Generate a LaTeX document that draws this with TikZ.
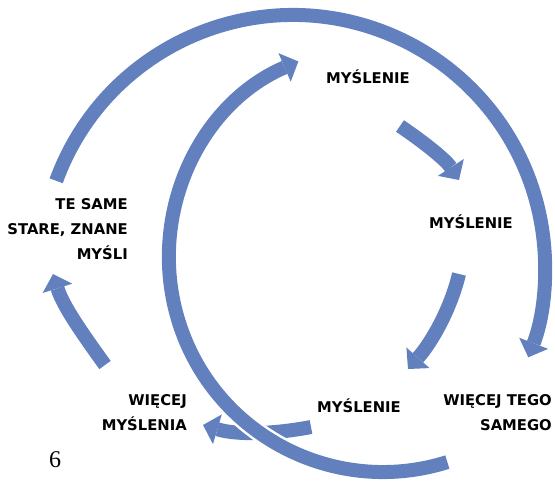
\documentclass[tikz,border=0pt]{standalone}
\usepackage{fontspec}
\setmainfont{DejaVu Sans}
\newfontfamily\numfont{Liberation Serif}
\usetikzlibrary{arrows.meta}
\definecolor{arrowblue}{RGB}{98,128,190}
\begin{document}
\begin{tikzpicture}[x=1pt,y=-1pt,
  flow/.style={draw=arrowblue, line width=14pt,
    -{Triangle[width=31pt,length=15pt,line width=0pt]}},
  gap/.style={draw=white, line width=19pt},
  lbl/.style={font=\bfseries\fontsize{14.8}{25}\selectfont, inner sep=0pt, align=right, text=black},
]
\useasboundingbox (0,0) rectangle (555,480);
% centres of the two large arcs
\coordinate (oc) at (293,267);
\coordinate (ic) at (383,258);
% labels
\node[lbl] (m1) at (368,76.5) {MYŚLENIE};
\node[lbl] (m2) at (471,221.5) {MYŚLENIE};
\node[lbl] (m3) at (359,405.5) {MYŚLENIE};
\node[lbl, anchor=east] (wts) at (552,413) {WIĘCEJ TEGO\\SAMEGO};
\node[lbl, anchor=east] (wm) at (187,412.5) {WIĘCEJ\\MYŚLENIA};
\node[lbl, anchor=east] (tsm) at (128,229) {TE SAME\\STARE, ZNANE\\MYŚLI};
\node[font=\numfont\fontsize{24}{28}\selectfont, inner sep=0pt] (pg) at (55,460) {6};
% short arrows
\coordinate (a1s) at (400,126); \coordinate (a1e) at (459,180);
\coordinate (a2s) at (459,274); \coordinate (a2e) at (408,369);
\coordinate (a3s) at (311,427); \coordinate (a3e) at (203,425);
\coordinate (a4s) at (105,365); \coordinate (a4e) at (53,274);
\draw[flow] (a1s) .. controls (425,143) and (446,160) .. (a1e);
\draw[flow] (a2s) .. controls (451,308) and (432,342) .. (a2e);
\draw[flow] (a3s) .. controls (280,433) and (240,436) .. (a3e);
\draw[flow] (a4s) .. controls (82,333) and (63,306) .. (a4e);
% outer large arc
\draw[flow] (oc) ++(-160:252) arc[start angle=-160, end angle=21, radius=252];
% inner large arc
\draw[gap] (ic) ++(95:214) arc[start angle=95, end angle=150, radius=214];
\draw[flow] (ic) ++(72.5:214) arc[start angle=72.5, end angle=246.7, radius=214];
\end{tikzpicture}
\end{document}
